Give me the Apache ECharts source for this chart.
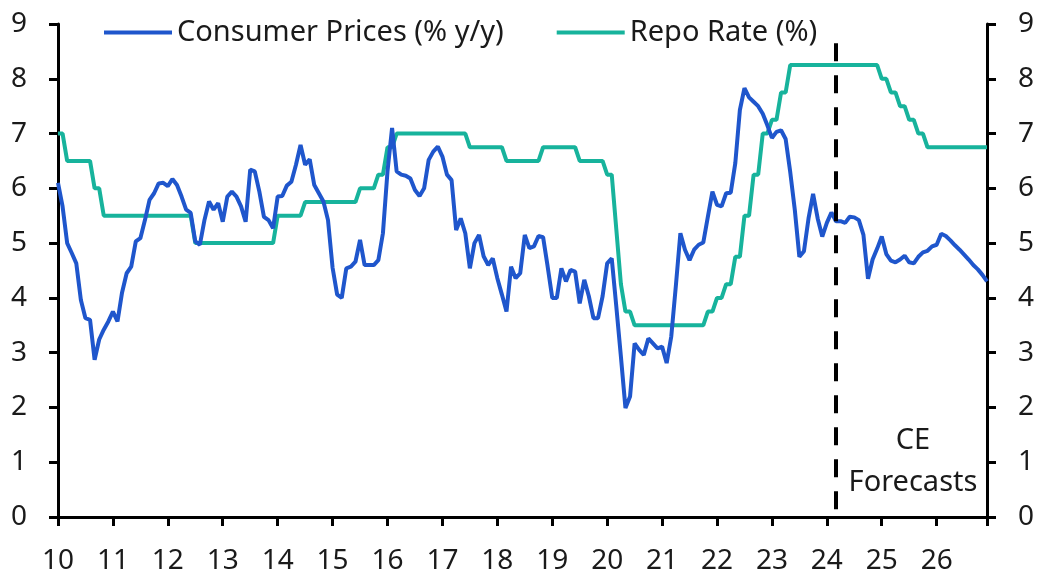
<!DOCTYPE html>
<html>
<head>
<meta charset="utf-8">
<script src="https://cdn.jsdelivr.net/npm/echarts@6/dist/echarts.min.js"></script>
<style>
html,body{margin:0;padding:0;background:#fff;}
#chart{width:1037px;height:575px;}
</style>
</head>
<body>
<div id="chart"></div>
<script>
// ---- DATA ----
// x-axis: monthly index, 0 = Jan 2010 ... 203 = Dec 2026
const yearLabels = ['10','11','12','13','14','15','16','17','18','19','20','21','22','23','24','25','26'];
const cpiName = 'Consumer Prices (% y/y)';
const repoName = 'Repo Rate (%)';
const forecastStart = 170; // Mar 2024
const forecastLabel = 'CE\nForecasts';

const cpi = [
  // 2010
  6.1, 5.67, 5.0, 4.82, 4.63, 3.96, 3.63, 3.6, 2.87, 3.24, 3.42, 3.57,
  // 2011
  3.75, 3.57, 4.1, 4.45, 4.57, 5.03, 5.09, 5.42, 5.79, 5.91, 6.09, 6.1,
  // 2012
  6.04, 6.17, 6.06, 5.85, 5.61, 5.55, 5.03, 4.97, 5.42, 5.76, 5.61, 5.73,
  // 2013
  5.39, 5.85, 5.94, 5.85, 5.67, 5.39, 6.34, 6.31, 5.94, 5.48, 5.42, 5.27,
  // 2014
  5.85, 5.86, 6.05, 6.12, 6.43, 6.79, 6.43, 6.53, 6.06, 5.91, 5.76, 5.42,
  // 2015
  4.55, 4.06, 4.0, 4.54, 4.57, 4.66, 5.06, 4.6, 4.6, 4.6, 4.69, 5.18,
  // 2016
  6.31, 7.1, 6.31, 6.25, 6.23, 6.18, 5.97, 5.86, 6.0, 6.52, 6.67, 6.76,
  // 2017
  6.58, 6.25, 6.15, 5.24, 5.45, 5.18, 4.54, 5.0, 5.15, 4.76, 4.6, 4.72,
  // 2018
  4.36, 4.06, 3.75, 4.57, 4.36, 4.45, 5.15, 4.91, 4.94, 5.13, 5.11, 4.57,
  // 2019
  4.0, 4.0, 4.54, 4.3, 4.51, 4.48, 3.9, 4.33, 4.03, 3.63, 3.63, 4.03,
  // 2020
  4.63, 4.72, 3.84, 2.93, 1.99, 2.2, 3.17, 3.05, 2.96, 3.26, 3.17, 3.08,
  // 2021
  3.11, 2.81, 3.29, 4.21, 5.18, 4.88, 4.69, 4.88, 4.97, 5.01, 5.48, 5.94,
  // 2022
  5.7, 5.67, 5.91, 5.92, 6.46, 7.43, 7.83, 7.66, 7.58, 7.5, 7.36, 7.15,
  // 2023
  6.92, 7.03, 7.06, 6.9, 6.3, 5.61, 4.75, 4.85, 5.45, 5.9, 5.45, 5.12,
  // 2024
  5.37, 5.56, 5.4, 5.4, 5.37, 5.48, 5.47, 5.42, 5.15, 4.35, 4.7, 4.9,
  // 2025
  5.12, 4.8, 4.68, 4.65, 4.7, 4.77, 4.65, 4.63, 4.75, 4.83, 4.86, 4.94,
  // 2026
  4.97, 5.17, 5.13, 5.05, 4.96, 4.88, 4.79, 4.7, 4.6, 4.52, 4.42, 4.3
];

const repo = [
  // 2010
  7.0, 7.0, 6.5, 6.5, 6.5, 6.5, 6.5, 6.5, 6.0, 6.0, 5.5, 5.5,
  // 2011
  5.5, 5.5, 5.5, 5.5, 5.5, 5.5, 5.5, 5.5, 5.5, 5.5, 5.5, 5.5,
  // 2012
  5.5, 5.5, 5.5, 5.5, 5.5, 5.5, 5.0, 5.0, 5.0, 5.0, 5.0, 5.0,
  // 2013
  5.0, 5.0, 5.0, 5.0, 5.0, 5.0, 5.0, 5.0, 5.0, 5.0, 5.0, 5.0,
  // 2014
  5.5, 5.5, 5.5, 5.5, 5.5, 5.5, 5.75, 5.75, 5.75, 5.75, 5.75, 5.75,
  // 2015
  5.75, 5.75, 5.75, 5.75, 5.75, 5.75, 6.0, 6.0, 6.0, 6.0, 6.25, 6.25,
  // 2016
  6.75, 6.75, 7.0, 7.0, 7.0, 7.0, 7.0, 7.0, 7.0, 7.0, 7.0, 7.0,
  // 2017
  7.0, 7.0, 7.0, 7.0, 7.0, 7.0, 6.75, 6.75, 6.75, 6.75, 6.75, 6.75,
  // 2018
  6.75, 6.75, 6.5, 6.5, 6.5, 6.5, 6.5, 6.5, 6.5, 6.5, 6.75, 6.75,
  // 2019
  6.75, 6.75, 6.75, 6.75, 6.75, 6.75, 6.5, 6.5, 6.5, 6.5, 6.5, 6.5,
  // 2020
  6.25, 6.25, 5.25, 4.25, 3.75, 3.75, 3.5, 3.5, 3.5, 3.5, 3.5, 3.5,
  // 2021
  3.5, 3.5, 3.5, 3.5, 3.5, 3.5, 3.5, 3.5, 3.5, 3.5, 3.75, 3.75,
  // 2022
  4.0, 4.0, 4.25, 4.25, 4.75, 4.75, 5.5, 5.5, 6.25, 6.25, 7.0, 7.0,
  // 2023
  7.25, 7.25, 7.75, 7.75, 8.25, 8.25, 8.25, 8.25, 8.25, 8.25, 8.25, 8.25,
  // 2024
  8.25, 8.25, 8.25, 8.25, 8.25, 8.25, 8.25, 8.25, 8.25, 8.25, 8.25, 8.25,
  // 2025
  8.0, 8.0, 7.75, 7.75, 7.5, 7.5, 7.25, 7.25, 7.0, 7.0, 6.75, 6.75,
  // 2026
  6.75, 6.75, 6.75, 6.75, 6.75, 6.75, 6.75, 6.75, 6.75, 6.75, 6.75, 6.75
];

// ---- CHART ----
const FONT = 'Noto Sans';
const TXT = '#1a1a1a';
const BLUE = '#1f56cc';
const TEAL = '#17b39c';
const TICK_FS = 28;
const TEXT_FS = 29;

const toPairs = arr => arr.map((v, i) => [i, v]);

const chart = echarts.init(document.getElementById('chart'), null, {renderer: 'canvas'});

const yAxisBase = {
  type: 'value', min: 0, max: 9, interval: 1,
  axisLine: {show: true, lineStyle: {color: '#000', width: 3}},
  axisTick: {show: true, inside: false, length: 9, lineStyle: {color: '#000', width: 3}},
  axisLabel: {fontSize: TICK_FS, fontFamily: FONT, color: TXT, margin: 31},
  splitLine: {show: false}
};

chart.setOption({
  animation: false,
  backgroundColor: '#fff',
  textStyle: {fontFamily: FONT},
  grid: {left: 58, right: 50, top: 24, bottom: 58, containLabel: false, outerBoundsMode: 'none'},
  legend: {
    data: [cpiName, repoName],
    left: 99, top: 13,
    icon: 'rect', itemWidth: 68, itemHeight: 4, itemGap: 53,
    textStyle: {fontSize: TEXT_FS, fontFamily: FONT, color: TXT, padding: [0, 0, 0, 0]},
    selectedMode: false
  },
  xAxis: {
    type: 'value', min: 0, max: cpi.length - 1, interval: 12,
    axisLine: {show: true, onZero: false, lineStyle: {color: '#000', width: 3}},
    axisTick: {show: true, inside: false, length: 9, lineStyle: {color: '#000', width: 3}},
    axisLabel: {
      fontSize: TICK_FS, fontFamily: FONT, color: TXT, margin: 30,
      formatter: v => yearLabels[Math.round(v / 12)] || ''
    },
    splitLine: {show: false}
  },
  yAxis: [
    Object.assign({}, yAxisBase, {position: 'left'}),
    Object.assign({}, yAxisBase, {position: 'right'})
  ],
  series: [
    {
      name: repoName, type: 'line', data: toPairs(repo), yAxisIndex: 0,
      showSymbol: false, symbol: 'none', z: 2,
      lineStyle: {color: TEAL, width: 4}, itemStyle: {color: TEAL}
    },
    {
      name: cpiName, type: 'line', data: toPairs(cpi), yAxisIndex: 0,
      showSymbol: false, symbol: 'none', z: 3,
      lineStyle: {color: BLUE, width: 4}, itemStyle: {color: BLUE},
      markLine: {
        silent: true, symbol: 'none', animation: false,
        label: {show: false},
        lineStyle: {color: '#000', width: 4, type: [18, 14]},
        data: [[{coord: [forecastStart, 8.65]}, {coord: [forecastStart, 0]}]]
      }
    }
  ],
  graphic: [{
    type: 'text', x: 913, y: 420, z: 10,
    style: {text: forecastLabel, fontSize: TEXT_FS, fontFamily: FONT, fill: TXT, align: 'center', verticalAlign: 'top', lineHeight: 42}
  }]
});
</script>
</body>
</html>
